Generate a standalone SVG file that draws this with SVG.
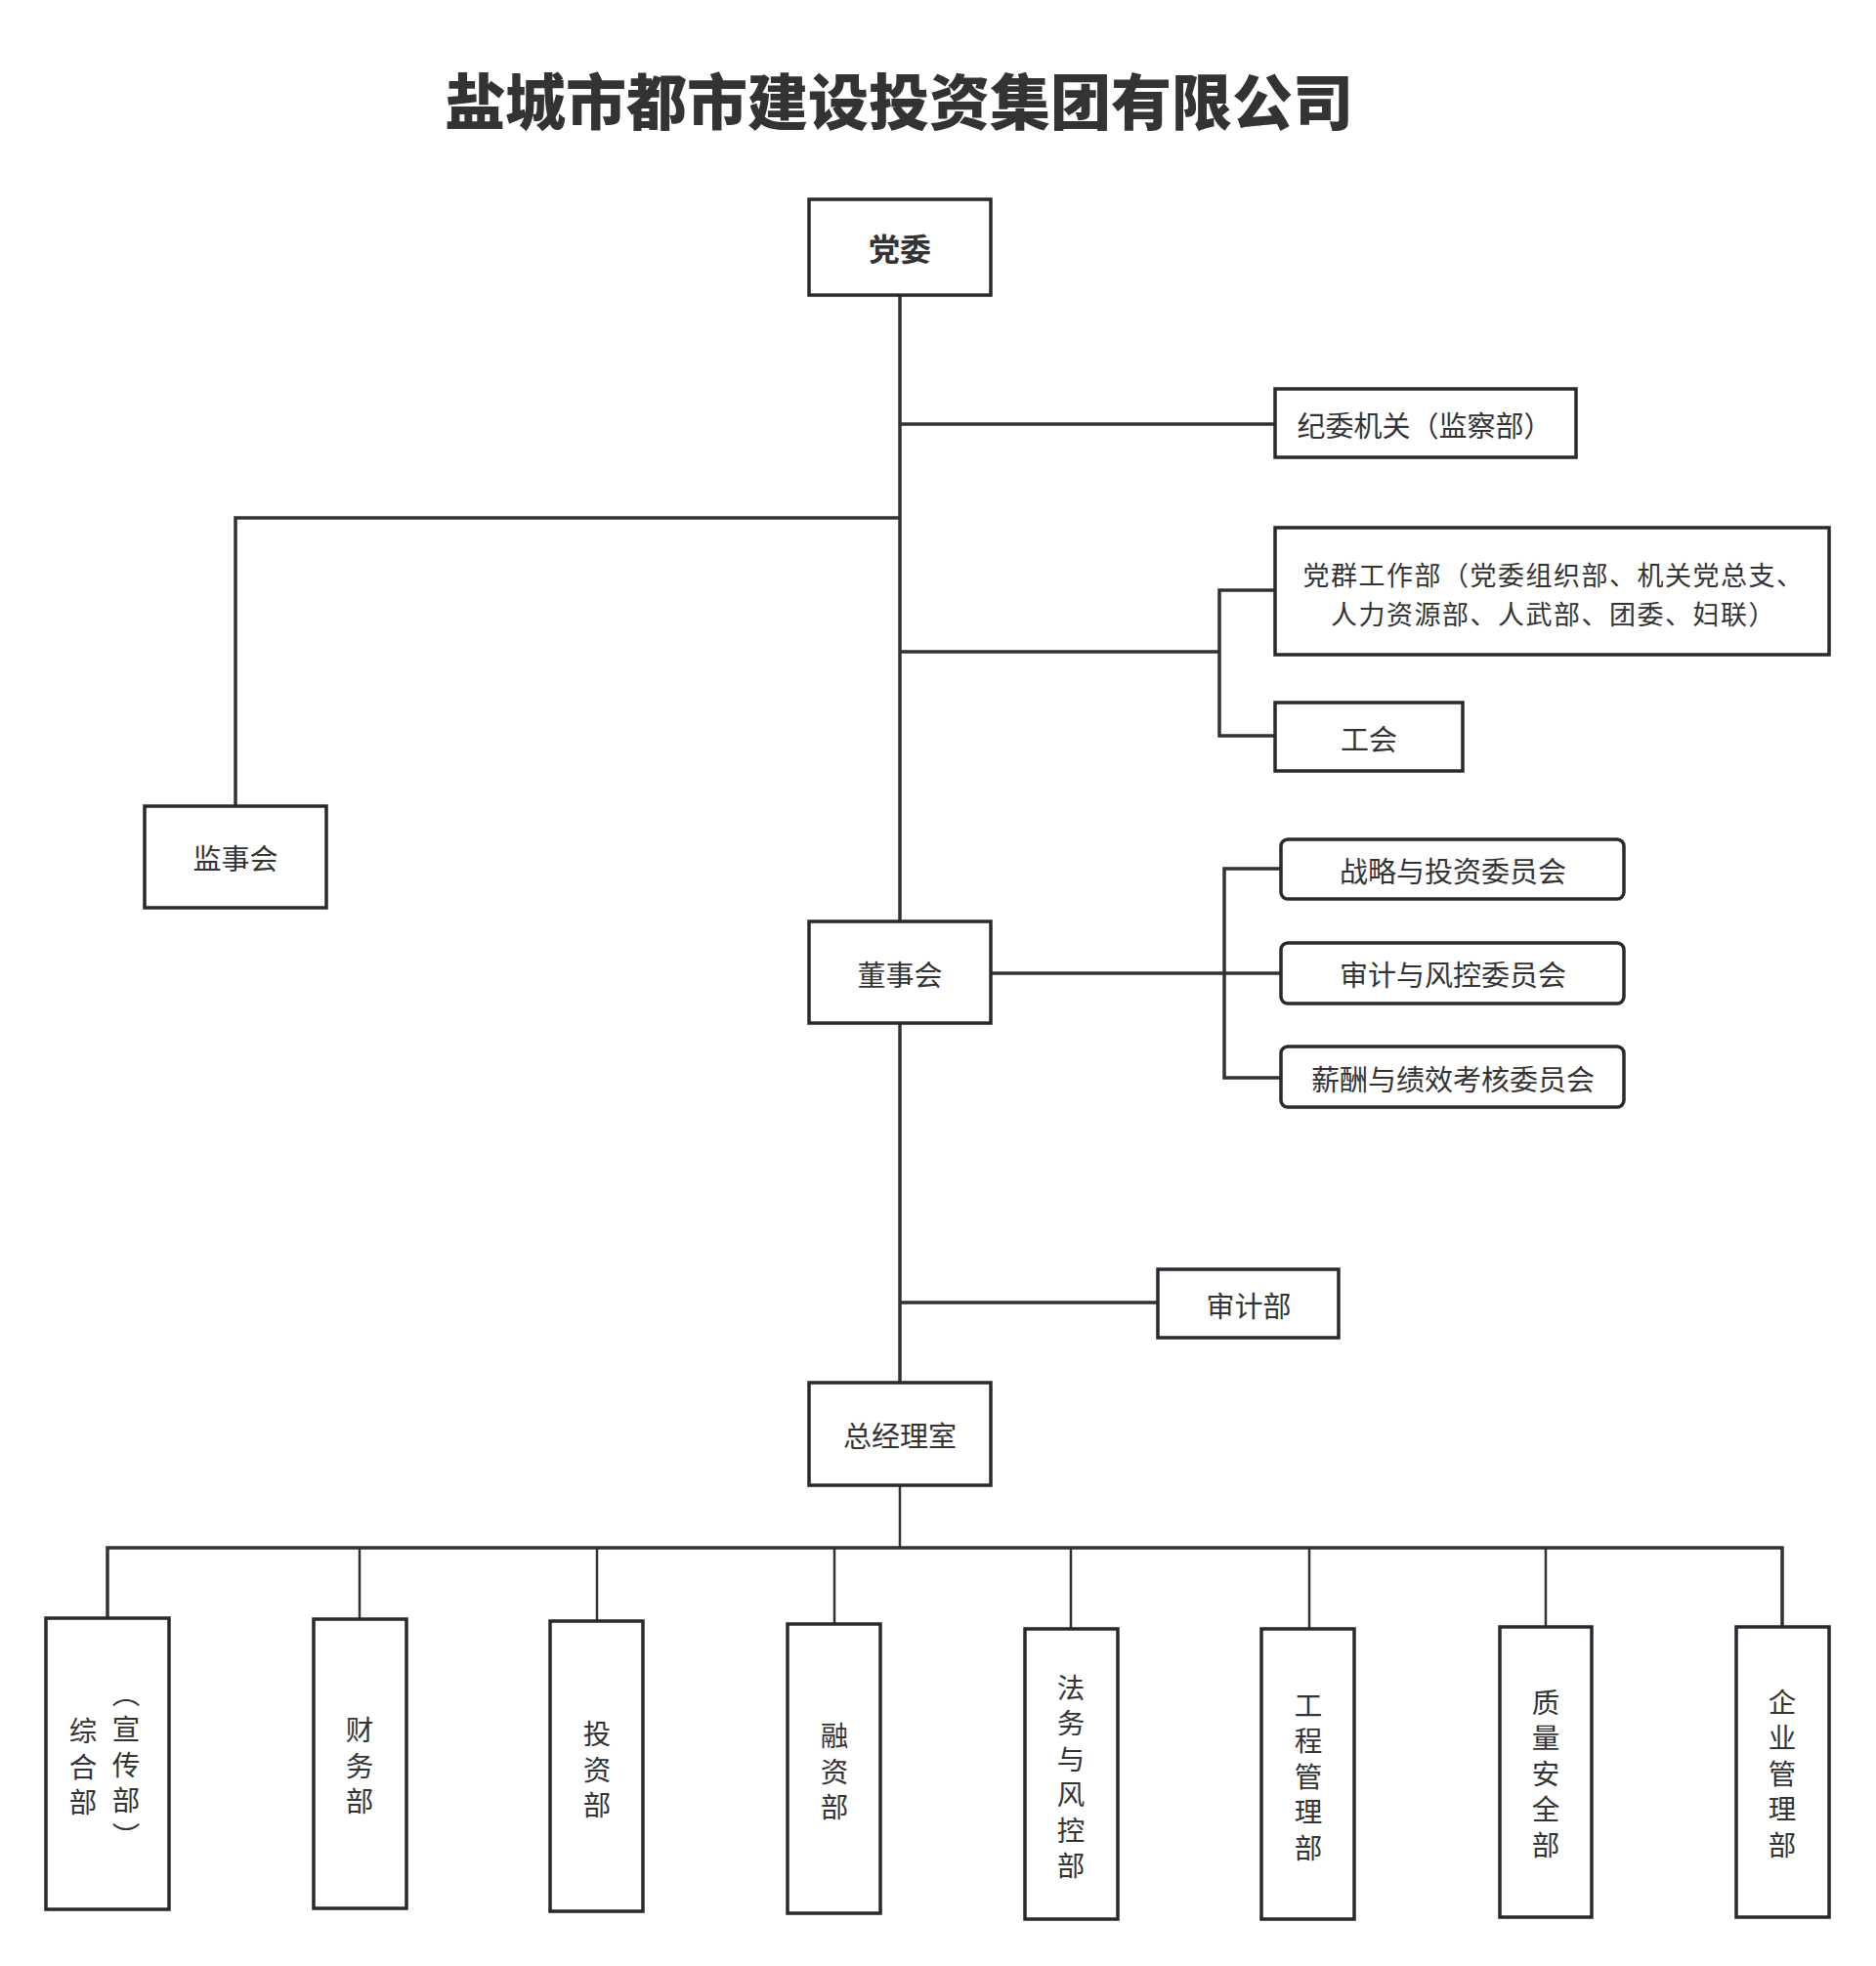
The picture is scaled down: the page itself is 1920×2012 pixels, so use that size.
<svg xmlns="http://www.w3.org/2000/svg" width="1920" height="2012" viewBox="0 0 1920 2012">
<style>
.box{fill:#fff;stroke:#252a2f;stroke-width:3.5}
.ln{fill:none;stroke:#303336;stroke-width:3.5}
.thin{fill:none;stroke:#303336;stroke-width:2.5}
text{font-family:"Noto Sans CJK SC","Noto Sans",sans-serif;fill:#333;font-size:29px;text-anchor:middle;dominant-baseline:central}
.title{font-size:62px;font-weight:900;fill:#333}
.bold{font-weight:700;font-size:32px}
.two{font-size:27px;letter-spacing:1.5px}
.v{writing-mode:vertical-rl;letter-spacing:8px;font-size:28.5px}
</style>
<rect width="1920" height="2012" fill="#fff"/>
<text class="title" x="920" y="101">盐城市都市建设投资集团有限公司</text>
<g id="connectors">
<path class="ln" d="M921,302V943"/>
<path class="ln" d="M921,1047V1415"/>
<path class="ln" d="M921,434H1304"/>
<path class="ln" d="M921,530H241V825"/>
<path class="ln" d="M921,667H1248"/>
<path class="ln" d="M1304,604H1248V753H1304"/>
<path class="ln" d="M1014,996H1310"/>
<path class="ln" d="M1310,889H1253V1103H1310"/>
<path class="ln" d="M921,1333H1185"/>
<path class="thin" d="M921,1520V1584"/>
<path class="ln" d="M110,1656V1584H1824V1665"/>
<path class="thin" d="M368,1584V1657M611,1584V1659M854,1584V1662M1096,1584V1667M1340,1584V1667M1582,1584V1665"/>
</g>
<g id="n-dangwei"><rect class="box" x="828" y="204" width="186" height="98"/><text class="bold" x="921" y="253">党委</text></g>
<g id="n-jiwei"><rect class="box" x="1305" y="398" width="308" height="70"/><text x="1458" y="434">纪委机关（监察部）</text></g>
<g id="n-jianshihui"><rect class="box" x="148" y="825" width="186" height="104"/><text x="241" y="877">监事会</text></g>
<g id="n-dangqun"><rect class="box" x="1305" y="540" width="567" height="130"/><text class="two"><tspan x="1590" y="587">党群工作部（党委组织部、机关党总支、</tspan><tspan x="1590" y="627">人力资源部、人武部、团委、妇联）</tspan></text></g>
<g id="n-gonghui"><rect class="box" x="1305" y="719" width="192" height="70"/><text x="1401" y="755">工会</text></g>
<g id="n-dongshihui"><rect class="box" x="828" y="943" width="186" height="104"/><text x="921" y="996">董事会</text></g>
<g id="n-zhanlue"><rect class="box" x="1311" y="859" width="351" height="61" rx="7"/><text x="1487" y="890">战略与投资委员会</text></g>
<g id="n-shenjiwy"><rect class="box" x="1311" y="965" width="351" height="62" rx="7"/><text x="1487" y="996">审计与风控委员会</text></g>
<g id="n-xinchou"><rect class="box" x="1311" y="1071" width="351" height="62" rx="7"/><text x="1487" y="1103">薪酬与绩效考核委员会</text></g>
<g id="n-shenjibu"><rect class="box" x="1185" y="1299" width="185" height="70"/><text x="1278" y="1335">审计部</text></g>
<g id="n-zongjingli"><rect class="box" x="828" y="1415" width="186" height="105"/><text x="921" y="1468">总经理室</text></g>
<g id="n-zonghe"><rect class="box" x="47" y="1656" width="126" height="298"/><text class="v" x="85" y="1812">综合部</text><text class="v" x="129" y="1810">（宣传部）</text></g>
<g id="n-caiwu"><rect class="box" x="321" y="1657" width="95" height="296"/><text class="v" x="368" y="1811">财务部</text></g>
<g id="n-touzi"><rect class="box" x="563" y="1659" width="95" height="297"/><text class="v" x="611" y="1815">投资部</text></g>
<g id="n-rongzi"><rect class="box" x="806" y="1662" width="95" height="296"/><text class="v" x="854" y="1817">融资部</text></g>
<g id="n-fawu"><rect class="box" x="1049" y="1667" width="95" height="297"/><text class="v" x="1096" y="1822">法务与风控部</text></g>
<g id="n-gongcheng"><rect class="box" x="1291" y="1667" width="95" height="297"/><text class="v" x="1339" y="1822">工程管理部</text></g>
<g id="n-zhiliang"><rect class="box" x="1535" y="1665" width="94" height="297"/><text class="v" x="1582" y="1819">质量安全部</text></g>
<g id="n-qiye"><rect class="box" x="1777" y="1665" width="95" height="297"/><text class="v" x="1824" y="1819">企业管理部</text></g>
</svg>
